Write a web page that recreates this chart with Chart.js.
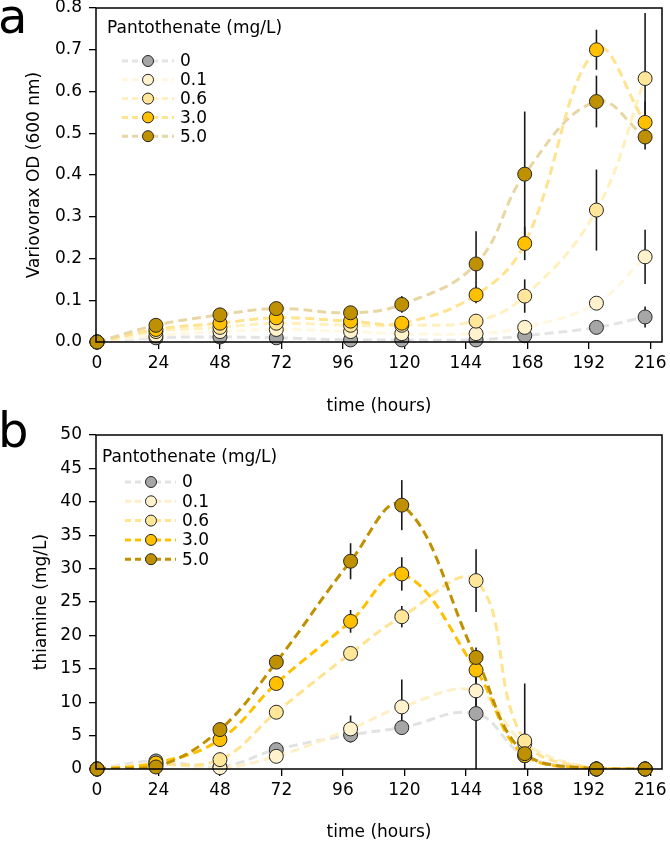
<!DOCTYPE html>
<html>
<head>
<meta charset="utf-8">
<script src="https://cdn.jsdelivr.net/npm/chart.js@4.4.1/dist/chart.umd.min.js"></script>
<style>
  html, body { margin: 0; padding: 0; background: #fff; }
  #wrap { position: relative; width: 670px; height: 844px; font-family: "DejaVu Sans", sans-serif; }
  .panel { position: absolute; left: 0; width: 670px; height: 422px; }
  .tag { position: absolute; left: -2px; font-size: 48px; line-height: 48px; color: #000; }
</style>
</head>
<body>
<div id="wrap">
  <div class="panel" style="top:0"><canvas id="odChart"></canvas></div>
  <div class="panel" style="top:422px"><canvas id="thiChart"></canvas></div>
  <div class="tag" style="top:-8px">a</div>
  <div class="tag" style="top:406px">b</div>
</div>
<script>
// sampling times (hours) and axis ticks
const timeHours = [0, 23, 48, 70, 99, 119, 148, 167, 195, 214];
const xTicks = [0, 24, 48, 72, 96, 120, 144, 168, 192, 216];
const odTicks = [0, 0.1, 0.2, 0.3, 0.4, 0.5, 0.6, 0.7, 0.8];
const thiTicks = [0, 5, 10, 15, 20, 25, 30, 35, 40, 45, 50];

const doseLabels = ['0', '0.1', '0.6', '3.0', '5.0'];
const markerColors = ['#a6a6a6', '#fff2cc', '#ffe699', '#ffc000', '#bf9000'];

// panel a: Variovorax OD600
const od0  = [0, 0.010, 0.012, 0.010, 0.005, 0.005, 0.005, 0.015, 0.035, 0.060];
const od01 = [0, 0.015, 0.025, 0.030, 0.025, 0.020, 0.020, 0.035, 0.093, 0.204];
const od06 = [0, 0.025, 0.035, 0.045, 0.040, 0.040, 0.050, 0.110, 0.316, 0.631];
const od30 = [0, 0.030, 0.045, 0.058, 0.050, 0.045, 0.113, 0.236, 0.700, 0.526];
const od50 = [0, 0.040, 0.065, 0.080, 0.070, 0.090, 0.187, 0.402, 0.576, 0.491];

const od0Err  = [0, 0, 0, 0, 0, 0, 0, 0.005, 0.010, 0.025];
const od01Err = [0, 0, 0, 0, 0, 0, 0, 0.010, 0.012, 0.065];
const od06Err = [0, 0, 0, 0, 0, 0, 0.015, 0.040, 0.097, 0.157];
const od30Err = [0, 0, 0, 0, 0, 0, 0.020, 0.040, 0.048, 0.050];
const od50Err = [0, 0, 0, 0, 0, 0.020, 0.078, 0.150, 0.062, 0.030];

// panel b: thiamine (mg/L)
const thi0  = [0, 1.2, 0.3, 2.9, 5.1, 6.2, 8.3, 2.0, 0, 0];
const thi01 = [0, 0.8, 0.2, 1.9, 6.0, 9.3, 11.7, 3.8, 0, 0];
const thi06 = [0, 0.6, 1.4, 8.5, 17.3, 22.8, 28.2, 4.2, 0, 0];
const thi30 = [0, 0.9, 4.4, 12.8, 22.1, 29.2, 14.8, 2.0, 0, 0];
const thi50 = [0, 0.3, 5.9, 16.0, 31.1, 39.5, 16.7, 2.3, 0, 0];

const thi0Err  = [0, 0, 0, 0.3, 1.1, 0.5, 8.4, 0, 0, 0];
const thi01Err = [0, 0, 0, 0, 2.0, 4.1, 3.0, 0, 0, 0];
const thi06Err = [0, 0, 0, 0, 0.5, 1.6, 4.7, 8.6, 0, 0];
const thi30Err = [0, 0, 0, 0, 1.7, 2.5, 1.5, 0, 0, 0];
const thi50Err = [0, 0, 0.7, 0.5, 2.7, 3.75, 1.5, 0, 0, 0];

const FONT = '"DejaVu Sans", sans-serif';

function seriesPoints(vals) {
  return timeHours.map((t, i) => ({ x: t, y: vals[i] }));
}

function makeChart(canvasId, cfg) {
  const n = cfg.series.length;

  const lineSets = cfg.series.map((vals, k) => ({
    label: doseLabels[k] + ' trend',
    data: seriesPoints(vals),
    borderColor: cfg.lineColors[k],
    borderWidth: 3,
    borderDash: [9, 5],
    tension: 0.4,
    pointRadius: 0,
    fill: false,
    order: 100 - k,
  }));

  const pointSets = cfg.series.map((vals, k) => ({
    label: doseLabels[k],
    data: seriesPoints(vals),
    showLine: false,
    pointRadius: 7,
    pointBackgroundColor: markerColors[k],
    pointBorderColor: '#262626',
    pointBorderWidth: 1,
    clip: false,
    order: 50 - k,
  }));

  // error bars go above the dashed lines but under the markers
  const errorBars = {
    id: 'errorBars',
    beforeDatasetDraw(chart, args) {
      if (args.index !== n) return;
      const { ctx, scales: { x, y } } = chart;
      ctx.save();
      ctx.strokeStyle = '#1a1a1a';
      ctx.lineWidth = 1.6;
      cfg.series.forEach((vals, k) => {
        cfg.errors[k].forEach((e, i) => {
          if (!e) return;
          const px = x.getPixelForValue(timeHours[i]);
          ctx.beginPath();
          ctx.moveTo(px, y.getPixelForValue(vals[i] + e));
          ctx.lineTo(px, y.getPixelForValue(Math.max(vals[i] - e, 0)));
          ctx.stroke();
        });
      });
      ctx.restore();
    },
  };

  const frameAndLegend = {
    id: 'frameAndLegend',
    afterDraw(chart) {
      const { ctx, chartArea: a } = chart;
      const L = cfg.legend;
      ctx.save();
      ctx.strokeStyle = '#000';
      ctx.lineWidth = 1.5;
      ctx.strokeRect(a.left, a.top, a.right - a.left, a.bottom - a.top);

      ctx.fillStyle = '#000';
      ctx.font = '17px ' + FONT;
      ctx.textBaseline = 'middle';
      ctx.textAlign = 'left';
      ctx.fillText('Pantothenate (mg/L)', L.titleX, a.top + L.titleDy);

      doseLabels.forEach((lab, k) => {
        const yy = a.top + L.rowDy + k * L.rowStep;
        ctx.strokeStyle = cfg.lineColors[k];
        ctx.lineWidth = 3;
        ctx.setLineDash([6, 4]);
        ctx.beginPath();
        ctx.moveTo(L.lineX1, yy);
        ctx.lineTo(L.lineX2, yy);
        ctx.stroke();
        ctx.setLineDash([]);
        ctx.beginPath();
        ctx.arc(L.markX, yy, 5.5, 0, Math.PI * 2);
        ctx.fillStyle = markerColors[k];
        ctx.fill();
        ctx.strokeStyle = '#262626';
        ctx.lineWidth = 1;
        ctx.stroke();
        ctx.fillStyle = '#000';
        ctx.fillText(lab, L.labelX, yy + 1);
      });
      ctx.restore();
    },
  };

  return new Chart(document.getElementById(canvasId), {
    type: 'line',
    data: { datasets: [...lineSets, ...pointSets] },
    options: {
      responsive: true,
      maintainAspectRatio: false,
      animation: false,
      events: [],
      layout: { padding: { top: cfg.top, right: 5, left: 0, bottom: 0 } },
      plugins: { legend: { display: false }, tooltip: { enabled: false } },
      scales: {
        x: {
          type: 'linear',
          min: -0.4,
          max: 220.6,
          afterBuildTicks: (s) => { s.ticks = xTicks.map((v) => ({ value: v })); },
          afterFit: (s) => { s.height = cfg.xHeight; s.paddingLeft = 0; s.paddingRight = 0; },
          grid: { drawOnChartArea: false, tickLength: 7, color: '#000', lineWidth: 1.3 },
          border: { display: false },
          ticks: { color: '#000', font: { size: 17, family: FONT }, padding: 4, maxRotation: 0, autoSkip: false },
          title: {
            display: true,
            text: 'time (hours)',
            color: '#000',
            font: { size: 17, family: FONT },
            padding: { top: 0, bottom: cfg.xTitlePad },
          },
        },
        y: {
          min: cfg.yTicks[0],
          max: cfg.yTicks[cfg.yTicks.length - 1],
          afterBuildTicks: (s) => { s.ticks = cfg.yTicks.map((v) => ({ value: v })); },
          afterFit: (s) => { s.width = 96; s.paddingTop = 0; s.paddingBottom = 0; },
          grid: { drawOnChartArea: false, tickLength: 7, color: '#000', lineWidth: 1.3 },
          border: { display: false },
          ticks: {
            color: '#000',
            font: { size: 17, family: FONT },
            padding: 7,
            autoSkip: false,
            callback: cfg.tickFormat,
          },
          title: {
            display: true,
            text: cfg.yTitle,
            color: '#000',
            font: { size: 17, family: FONT },
            padding: { top: cfg.yTitlePad, bottom: 0 },
          },
        },
      },
    },
    plugins: [errorBars, frameAndLegend],
  });
}

makeChart('odChart', {
  series: [od0, od01, od06, od30, od50],
  errors: [od0Err, od01Err, od06Err, od30Err, od50Err],
  lineColors: ['#e4e4e4', '#fff7de', '#fff0bd', '#ffe38f', '#e8d6a4'],
  yTicks: odTicks,
  tickFormat: (v) => v.toFixed(1),
  yTitle: 'Variovorax OD (600 nm)',
  yTitlePad: 24,
  top: 8,
  xHeight: 80,
  xTitlePad: 5,
  legend: { titleX: 107, titleDy: 21, rowDy: 53, rowStep: 18.8, lineX1: 122, lineX2: 174, markX: 148, labelX: 180 },
});

makeChart('thiChart', {
  series: [thi0, thi01, thi06, thi30, thi50],
  errors: [thi0Err, thi01Err, thi06Err, thi30Err, thi50Err],
  lineColors: ['#e2e2e2', '#ffefc6', '#ffe38f', '#ffc000', '#bf9000'],
  yTicks: thiTicks,
  tickFormat: (v) => String(v),
  yTitle: 'thiamine (mg/L)',
  yTitlePad: 31,
  top: 13,
  xHeight: 75,
  xTitlePad: 1,
  legend: { titleX: 102, titleDy: 23, rowDy: 47, rowStep: 19.3, lineX1: 125, lineX2: 176, markX: 151, labelX: 182 },
});
</script>
</body>
</html>
